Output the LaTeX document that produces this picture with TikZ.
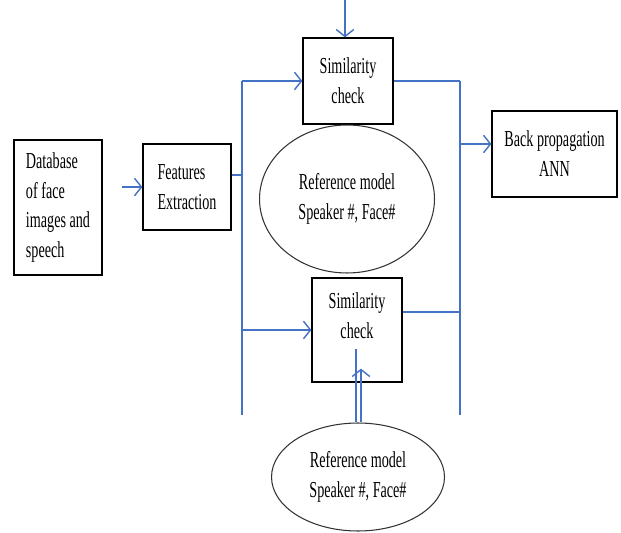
\documentclass[tikz,border=0pt]{standalone}
\usepackage{fontspec}
\setmainfont{Liberation Serif}[FakeStretch=0.62]
\usepackage{xcolor}
\usetikzlibrary{arrows.meta}
\usetikzlibrary{shapes.geometric}
\definecolor{myblue}{RGB}{68,114,196}
\tikzset{
  box/.style={draw=black, line width=0.7pt, rectangle, inner sep=0pt},
  refmodel/.style={draw=black!80, line width=0.6pt, ellipse, inner sep=0pt, align=center},
  link/.style={draw=myblue, line width=0.8pt},
  arr/.style={link, -{Straight Barb[length=4pt,width=10pt]}}
}

\begin{document}
\begin{tikzpicture}[x=0.02cm, y=-0.02cm, font=\fontsize{13}{17}\selectfont]
  \useasboundingbox (0,0) rectangle (621,533);
  %The input and feature boxes:
  \node[box, minimum width=1.76cm, minimum height=2.7cm, align=left] (db) at (58,207.5) {Database\\of face\\images and\\speech};
  \node[box, minimum width=1.76cm, minimum height=1.72cm, align=left] (feat) at (187,187) {Features\\Extraction};
  %The two similarity checks:
  \node[box, minimum width=1.8cm, minimum height=1.72cm, align=center] (sim1) at (348,81) {Similarity\\check};
  \node[box, minimum width=1.8cm, minimum height=2.08cm, align=center, text depth=16pt] (sim2) at (357,330) {Similarity\\check};
  \node[box, minimum width=2.5cm, minimum height=1.72cm, align=center] (bp) at (554.5,154) {Back propagation\\ANN};
  %The reference models:
  \node[refmodel, minimum width=3.5cm, minimum height=2.96cm] (ref1) at (347,199) {Reference model\\Speaker \#, Face\#};
  \node[refmodel, minimum width=3.46cm, minimum height=2.16cm] (ref2) at (358,477) {Reference model\\Speaker \#, Face\#};

  %The two vertical buses:
  \coordinate (lt) at (242,81);
  \coordinate (lb) at (242,415);
  \coordinate (rt) at (460,81);
  \coordinate (rb) at (460,415);
  \coordinate (rm) at (460,144);
  \coordinate (top) at (345,0);
  \draw[link] (lt) -- (lb);
  \draw[link] (rt) -- (rb);

  %Connectors:
  \draw[arr, shorten <=0.38cm] (db.east |- feat.west) -- (feat.west);
  \draw[link] ([yshift=0.24cm]feat.east) -- ([yshift=0.24cm]feat.east -| lt);
  \draw[arr] (lt) -- (sim1.west);
  \draw[arr] (top) -- (top |- sim1.north);
  \draw[link] (sim1.east) -- (rt);
  \draw[arr] (rm) -- (rm -| bp.west);
  \draw[arr] (lb |- sim2.west) -- (sim2.west);
  \draw[link] ([yshift=0.36cm]sim2.east) -- ([yshift=0.36cm]sim2.east -| rt);
  \draw[link] ([xshift=-0.04cm]ref2.north) -- ++(0,-73);
  \draw[arr, shorten >=-0.28cm] ([xshift=0.06cm]ref2.north) -- ([xshift=0.06cm]ref2.north |- sim2.south);
\end{tikzpicture}
\end{document}
